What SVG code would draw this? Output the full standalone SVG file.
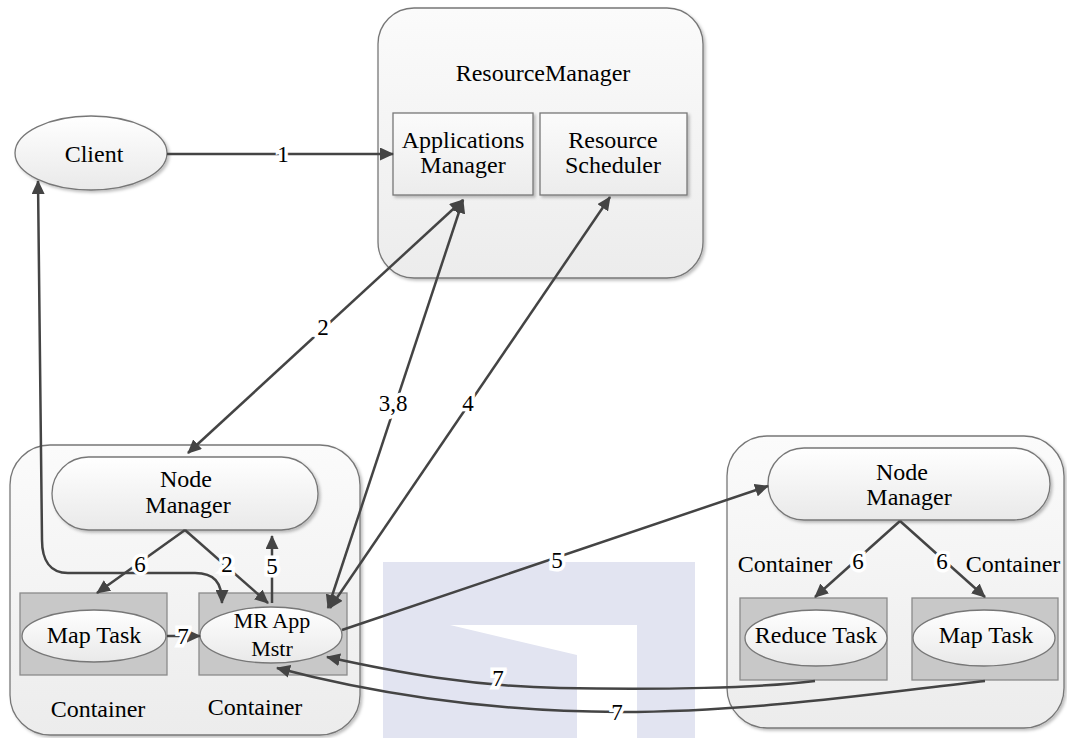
<svg xmlns="http://www.w3.org/2000/svg" width="1067" height="738" viewBox="0 0 1067 738">
<defs>
<linearGradient id="gBox" x1="0" y1="0" x2="0" y2="1"><stop offset="0" stop-color="#fbfbfb"/><stop offset="1" stop-color="#ececec"/></linearGradient>
<linearGradient id="gEl" x1="0" y1="0" x2="0" y2="1"><stop offset="0" stop-color="#ffffff"/><stop offset="1" stop-color="#e9e9e9"/></linearGradient>
<filter id="sh" x="-10%" y="-10%" width="130%" height="130%"><feDropShadow dx="2" dy="2" stdDeviation="1.5" flood-color="#000" flood-opacity="0.25"/></filter>
<marker id="ah" viewBox="0 0 14 13" markerWidth="14" markerHeight="13" refX="13" refY="6.5" orient="auto-start-reverse" markerUnits="userSpaceOnUse"><path d="M0,0 L14,6.5 L0,13 Z" fill="#444"/></marker>
</defs>
<style>
.t{font-family:"Liberation Serif","DejaVu Serif",serif;font-size:24px;fill:#000;text-anchor:middle}
.s{font-size:22px}
.lb{font-family:"Liberation Serif","DejaVu Serif",serif;font-size:23px;fill:#000;text-anchor:middle;stroke:#fff;stroke-width:7px;paint-order:stroke;stroke-linejoin:miter}
.big{fill:url(#gBox);stroke:#777;stroke-width:1.3}
.pill{fill:url(#gEl);stroke:#777;stroke-width:1.3}
.cont{fill:#c8c8c8;stroke:#8a8a8a;stroke-width:1.3}
.el{fill:url(#gEl);stroke:#777;stroke-width:1.3}
.c{fill:none;stroke:#444;stroke-width:2.5}
.wm{fill:#e2e4f1}
</style>
<rect width="1067" height="738" fill="#fff"/>
<g id="watermark">
<rect class="wm" x="383" y="562" width="312" height="176"/>
<polygon points="450,625 637,625 637,738 577,738 577,655" fill="#fff"/>
</g>
<g id="resourcemanager">
<rect class="big" x="378" y="8" width="325" height="270" rx="36" filter="url(#sh)"/>
<text class="t" x="543" y="81">ResourceManager</text>
</g>
<g id="appmanager">
<rect class="big" x="393" y="113" width="140" height="82" filter="url(#sh)"/>
<text class="t" x="463" y="148">Applications</text>
<text class="t" x="463" y="173">Manager</text>
</g>
<g id="scheduler">
<rect class="big" x="540" y="113" width="147" height="82" filter="url(#sh)"/>
<text class="t" x="613" y="148">Resource</text>
<text class="t" x="613" y="173">Scheduler</text>
</g>
<g id="client">
<ellipse class="el" cx="91" cy="153" rx="76" ry="37" filter="url(#sh)"/>
<text class="t" x="94" y="162">Client</text>
</g>
<g id="node1">
<rect class="big" x="10" y="445" width="350" height="290" rx="40" filter="url(#sh)"/>
<text class="t" x="98" y="717">Container</text>
<text class="t" x="255" y="715">Container</text>
</g>
<g id="nm1">
<rect class="pill" x="52" y="457" width="266" height="73" rx="36.5" filter="url(#sh)"/>
<text class="t" x="186" y="487">Node</text>
<text class="t" x="188" y="513">Manager</text>
</g>
<g id="maptask1">
<rect class="cont" x="20" y="593" width="147" height="82"/>
<ellipse class="el" cx="94" cy="636" rx="72" ry="26"/>
<text class="t" x="94" y="643">Map Task</text>
</g>
<g id="mrapp">
<rect class="cont" x="199" y="593" width="148" height="82"/>
<ellipse class="el" cx="271" cy="635" rx="71" ry="28"/>
<text class="t s" x="272" y="628">MR App</text>
<text class="t s" x="272" y="656">Mstr</text>
</g>
<g id="node2">
<rect class="big" x="727" y="436" width="337" height="292" rx="40" filter="url(#sh)"/>
<text class="t" x="785" y="572">Container</text>
<text class="t" x="1013" y="572">Container</text>
</g>
<g id="nm2">
<rect class="pill" x="768" y="448" width="282" height="72" rx="36" filter="url(#sh)"/>
<text class="t" x="902" y="480">Node</text>
<text class="t" x="909" y="505">Manager</text>
</g>
<g id="reducetask">
<rect class="cont" x="740" y="598" width="147" height="82"/>
<ellipse class="el" cx="816" cy="638" rx="71" ry="28"/>
<text class="t" x="816" y="643">Reduce Task</text>
</g>
<g id="maptask2">
<rect class="cont" x="912" y="598" width="146" height="82"/>
<ellipse class="el" cx="984" cy="638" rx="71" ry="28"/>
<text class="t" x="986" y="643">Map Task</text>
</g>
<g id="connectors">
<path class="c" d="M167,154 L393,154" marker-end="url(#ah)"/>
<path class="c" d="M222,603 C222,582 214,573 195,573 L68,573 C50,573 42,560 42,540 L38,181" marker-start="url(#ah)" marker-end="url(#ah)"/>
<path class="c" d="M188,453 L463,200" marker-start="url(#ah)" marker-end="url(#ah)"/>
<path class="c" d="M328,608 L463,200" marker-start="url(#ah)" marker-end="url(#ah)"/>
<path class="c" d="M330,608 L610,197" marker-start="url(#ah)" marker-end="url(#ah)"/>
<path class="c" d="M185,530 L97,593" marker-end="url(#ah)"/>
<path class="c" d="M185,530 L268,603" marker-end="url(#ah)"/>
<path class="c" d="M272,603 L272,536" marker-end="url(#ah)"/>
<path class="c" d="M167,636 L200,636" marker-end="url(#ah)"/>
<path class="c" d="M342,630 L768,486" marker-end="url(#ah)"/>
<path class="c" d="M900,521 L815,597" marker-end="url(#ah)"/>
<path class="c" d="M900,521 L985,597" marker-end="url(#ah)"/>
<path class="c" d="M815,681 C760,688 660,690 560,688 C470,686 400,673 327,657" marker-end="url(#ah)"/>
<path class="c" d="M985,681 C900,690 760,712 620,712 C480,712 360,690 277,668" marker-end="url(#ah)"/>
<text class="lb" x="283" y="162">1</text>
<text class="lb" x="323" y="335">2</text>
<text class="lb" x="393" y="411">3,8</text>
<text class="lb" x="468" y="411">4</text>
<text class="lb" x="140" y="572">6</text>
<text class="lb" x="227" y="572">2</text>
<text class="lb" x="272" y="574">5</text>
<text class="lb" x="183" y="644">7</text>
<text class="lb" x="557" y="568">5</text>
<text class="lb" x="858" y="569">6</text>
<text class="lb" x="942" y="569">6</text>
<text class="lb" x="498" y="686">7</text>
<text class="lb" x="617" y="720">7</text>
</g>
</svg>
